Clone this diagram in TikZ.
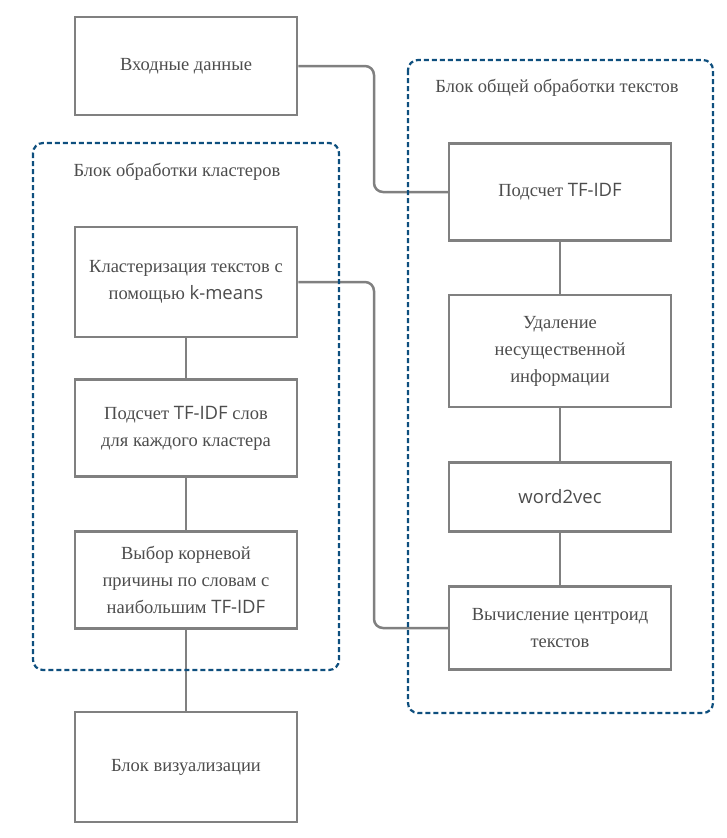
\documentclass[tikz,border=0pt]{standalone}
\usepackage{fontspec}
\setmainfont{Liberation Serif}
\newfontfamily\latinfont{Open Sans}
\usepackage{xcolor}
\definecolor{fcGray}{HTML}{808080}
\definecolor{fcText}{HTML}{4D4D4D}
\definecolor{fcBlue}{HTML}{0E4F7E}
\newcommand{\lsf}[1]{{\latinfont #1}}
\tikzset{
  blockbox/.style={draw=fcGray,line width=2.5pt,fill=white,minimum width=222pt,align=center,text=fcText,inner sep=4pt},
  groupbox/.style={draw=fcBlue,line width=2.2pt,dash pattern=on 5pt off 3pt,rounded corners=10pt},
  grouptitle/.style={text=fcText},
  link/.style={draw=fcGray,line width=2.5pt,rounded corners=9pt}
}

\begin{document}
\begin{tikzpicture}[x=1pt,y=-1pt,font=\fontsize{18.5}{27}\selectfont]
  \useasboundingbox (0,0) rectangle (726,838);
  % правый столбец
  \node[blockbox,minimum height=97pt] (tfidf) at (560,192) {Подсчет \lsf{TF-IDF}};
  \node[blockbox,minimum height=112pt] (clean) at (560,351) {Удаление\\несущественной\\информации};
  \node[blockbox,minimum height=69pt] (w2v) at (560,497) {\lsf{word2vec}};
  \node[blockbox,minimum height=83pt] (centr) at (560,628) {Вычисление центроид\\текстов};
  % левый столбец
  \node[blockbox,minimum height=98pt] (input) at (186,66) {Входные данные};
  \node[blockbox,minimum height=110pt] (kmeans) at (186,282) {Кластеризация текстов с\\помощью \lsf{k-means}};
  \node[blockbox,minimum height=97pt] (tfword) at (186,428) {Подсчет \lsf{TF-IDF} слов\\для каждого кластера};
  \node[blockbox,minimum height=97pt] (root) at (186,580) {Выбор корневой\\причины по словам с\\наибольшим \lsf{TF-IDF}};
  \node[blockbox,minimum height=110pt] (vis) at (186,767) {Блок визуализации};
  % связи
  \coordinate (inBend) at (374,66);
  \coordinate (clBend) at (374,282);
  \draw[link] (input.east) -- (inBend) |- (tfidf.west);
  \draw[link] (kmeans.east) -- (clBend) |- (centr.west);
  \draw[link] (tfidf) -- (clean) -- (w2v) -- (centr);
  \draw[link] (kmeans) -- (tfword) -- (root) -- (vis);
  % группы
  \draw[groupbox] (408,60) rectangle (713,713);
  \node[grouptitle] (tText) at (557,88) {Блок общей обработки текстов};
  \draw[groupbox] (33,143) rectangle (339,670);
  \node[grouptitle] (tClust) at (177,172) {Блок обработки кластеров};
\end{tikzpicture}
\end{document}
